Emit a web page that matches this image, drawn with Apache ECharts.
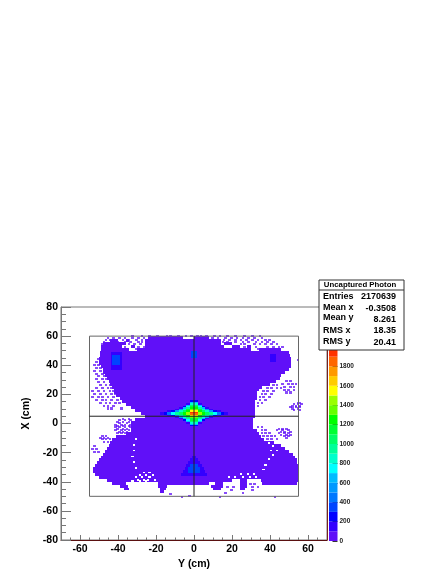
<!DOCTYPE html>
<html>
<head>
<meta charset="utf-8">
<script src="https://cdn.jsdelivr.net/npm/echarts@6/dist/echarts.min.js"></script>
<style>html,body{margin:0;padding:0;background:#fff}#chart{width:441px;height:571px}</style>
</head>
<body>
<div id="chart"></div>
<script>
// tick positions
const xMajorTicks = [-60, -40, -20, 0, 20, 40, 60];
const xMinorTicks = [-65, -55, -50, -45, -35, -30, -25, -15, -10, -5, 5, 10, 15, 25, 30, 35, 45, 50, 55, 65];
const zTicks = [0, 200, 400, 600, 800, 1000, 1200, 1400, 1600, 1800];
// colour of each 100-count band of the z scale
const palette = ['#6010f8', '#3300ff', '#0000ff', '#0044ff', '#0077ff', '#0099ff', '#00bbff', '#00ffff', '#00ffcc', '#00ff99',
  '#00ff66', '#00ff33', '#00ff00', '#66ff00', '#99ff00', '#ffff00', '#ffcc00', '#ff9900', '#ff6600', '#ff3300', '#ff0000',
  '#ff0000', '#ff0000', '#ff0000', '#ff0000'];

// solid body of the histogram: [top X, from Y, to Y], each row 2 cm high
const bodyRows = [
  [60,-24,-6],[60,0,8],
  [58,-44,-40],[58,-36,-34],[58,-26,14],
  [56,-48,-36],[56,-26,14],[56,16,20],
  [54,-49,-38],[54,-33,-31],[54,-26,16],[54,20,24],[54,28,30],
  [52,-49,-34],[52,-30,30],[52,34,46],
  [50,-49.5,50],[48,-49.5,50.5],[46,-50,51],[44,-50,51],[42,-50,51],[40,-49,51],
  [38,-48,50],[36,-48,48],[34,-47,46],[32,-46,45],[30,-45,43],[28,-44,40],[26,-43,36],[24,-42,34],
  [22,-42,33],[20,-41,33],[18,-39,33],[16,-38,32],[14,-36,32],[12,-33,32],[10,-31,32],[8,-28,32],[6,-26,32],
  [4,-31,31],[2,-33,31],[0,-33,31],[-2,-33,31],[-4,-33,33],[-6,-36,34],[-8,-41,35],[-10,-43,37],
  [-12,-44,42],[-14,-45,46],[-16,-46,48],[-18,-47,50],[-20,-48,52],[-22,-49,53],[-24,-50,54],[-26,-51,54],
  [-28,-52,54.5],[-30,-53,54.5],[-32,-53,54.5],[-34,-52,54.5],[-36,-50,54.5],
  [-38,-46,20],[-38,24,28],[-38,35,54.5],
  [-40,-43,-36],[-40,-19,8],[-40,11,15],[-40,24,28],[-40,36,54],
  [-42,-39,-35],[-42,-19,-14],[-42,9,15],[-42,24,28],
  [-44,-37,-34],[-44,-18,-15],[-44,10,14],[-44,24,27],
  [-46,-18,-16]
];
const bodyCount = 40;

// isolated filled bins outside the body: [X, list of Y]
const speckleRows = [
  [61,[-33,-28,-24,-20,-15,-13,-9,-5,-2,1,3,6,10,13,17,21,26,30,34]],
  [59.5,[-46,-43,-40,-37,-33,-30,-27,9,12,16,19,22,25,28,31,35]],
  [58,[-47,-45,-42,-38,-35,-31,-28,15,18,21,24,27,30,33,37,39]],
  [56.5,[-48,-44,-41,-37,-34,-30,-28,14.5,17,21,25,28,32,35,38,41]],
  [55,[-49,-46,-35,-32,-29,18,24,26,31,34,37,40,43]],
  [53.5,[-48,-37,-33,-30,-27,21,26,32,38,41,44,46]],
  [52,[-36,-31,-28,28,33,40]],
  [45,[-51]],[44,[54]],[43,[-52,-50]],[41,[-53,-51]],[39,[-52,-50]],[37,[-53,-50]],[35,[-52,-49]],[33,[-51,-48]],
  [31,[-52,-49,-47]],[30,[48,50]],[29,[-51,-48]],[28,[46,49,51,53]],[27,[-50,-47,-45,41,43]],[26,[47,50,52]],
  [25,[-52,-49,-46,-44,38,40,43,45]],[24,[47,49,52]],[23,[-54,-51,-48,-45,-43,36,38,41]],[22,[48,50]],
  [21,[-53,-50,-47,-44,-42,35,37,40]],[19,[-54,-51,-49,-46,-43,34,36,39]],[17,[-52,-49,-47,-44,-41,34,37]],
  [15,[-50,-47,-45,-42,-40,33,35,54,55]],[14,[52,54,56]],[13,[-48,-46,-43,33,51,53,55]],[12,[50,53,55]],
  [11,[-46,-44,-39,51,54]],[10,[52,55]],
  [4,[-38,-35]],[3,[-40,-37,-34]],[2,[-41,-38,-35]],[1,[-40,-36]],[0,[-42,-39,-37,-34]],[-1,[-41,-38,-35]],
  [-2,[-42,-40,-37,-34,33,35]],[-3,[-41,-38,-36,44,46,48]],[-4,[-42,-39,-37,-35,35,37,43,46,49]],
  [-5,[-40,-38,-36,45,47,50]],[-6,[-41,-39,-37,35,37,39,44,47,49]],[-7,[45,48,50]],
  [-8,[-49,-47,36,38,40,42,47,49]],[-9,[-50,-48,-46,48]],[-10,[-49,-47,-45,38,40,43]],[-12,[-48,-46]],
  [-15,[-53]],[-17,[-54,-52]],[-19,[-53,-51]],
  [-41,[29,31]],[-43,[17,20,30,33]],[-45,[19,30]],[-47,[16,25]],[-47.5,[-13]],[-49,[-3]],[-50,[-7,13,42]]
];
const speckleCount = 30;

// white gaps inside the body: [X, list of Y]
const holeRows = [
  [-6,[36]],[-8,[38]],[-10,[-31]],[-11,[37,40]],[-13,[39,43]],[-14,[-32]],[-15,[41]],[-18,[-32,40,43]],[-21,[41]],
  [-22,[-33]],[-24,[39]],[-26,[-32]],[-28,[37]],[-30,[-31]],[-31,[36]],
  [-33,[-27,-24]],[-34,[24,28,31]],[-35,[-29,-26,-22]],[-36,[-31,-28,-24,18,21,25,29,32]],
  [-38,[-30,-27,-25,-21,22,29,31,33]],[-39,[-33,-29,-26]],[-40,[17,20,22,29,32]]
];

// darker patches: [from Y, to Y, top X, bottom X, count]
const patches = [
  [-45,-37,50,32,90],[-43.5,-38,49,37,150],[-43,-39,47,40,320],
  [38.5,45,50,38,90],[40,43,48,42,150],
  [-3,3,52,42,90],[-1.5,1.5,50,45,320],
  [-1,1,-22,-24,100],[-2,2,-24,-26,100],[-3,3,-26,-28,100],[-4,4,-28,-30,100],[-5,5,-30,-32,100],[-6,6,-32,-34,100],[-7,7,-34,-36,100],
  [-1,1,-26,-28,150],[-2,2,-28,-30,320],[-3,3,-30,-32,350],[-3,3,-32,-34,320],[-2,2,-34,-36,150]
];

// central peak: rows from X=16 downwards, 1 cm high, 20 columns of 2 cm from Y=-20
const peakColumnsFrom = -20;
const peakRows = [
  [0,0,0,0,0,0,0,0,0,200,200,0,0,0,0,0,0,0,0,0],
  [0,0,0,0,0,0,0,0,0,600,600,0,0,0,0,0,0,0,0,0],
  [0,0,0,0,0,0,0,0,100,800,800,100,0,0,0,0,0,0,0,0],
  [0,0,0,0,0,0,0,0,600,1000,1000,600,0,0,0,0,0,0,0,0],
  [0,0,0,0,0,0,0,200,700,1100,1100,700,200,0,0,0,0,0,0,0],
  [0,0,0,0,0,0,100,600,900,1200,1200,900,600,100,0,0,0,0,0,0],
  [0,0,0,0,0,100,500,800,1100,1300,1300,1100,800,500,100,0,0,0,0,0],
  [0,0,0,100,200,500,800,1000,1200,1500,1500,1200,1000,800,500,200,100,0,0,0],
  [90,100,200,400,700,900,1050,1200,1450,1900,1900,1450,1200,1050,900,700,400,200,100,90],
  [0,100,200,400,700,900,1050,1200,1400,1800,1800,1400,1200,1050,900,700,400,200,100,0],
  [0,0,0,100,200,500,800,1000,1200,1500,1500,1200,1000,800,500,200,100,0,0,0],
  [0,0,0,0,0,100,500,800,1050,1300,1300,1050,800,500,100,0,0,0,0,0],
  [0,0,0,0,0,0,100,600,900,1150,1150,900,600,100,0,0,0,0,0,0],
  [0,0,0,0,0,0,0,200,700,1100,1100,700,200,0,0,0,0,0,0,0],
  [0,0,0,0,0,0,0,0,600,1000,1000,600,0,0,0,0,0,0,0,0],
  [0,0,0,0,0,0,0,0,100,800,800,100,0,0,0,0,0,0,0,0],
  [0,0,0,0,0,0,0,0,0,600,600,0,0,0,0,0,0,0,0,0],
  [0,0,0,0,0,0,0,0,0,200,200,0,0,0,0,0,0,0,0,0]
];

// outline drawn over the histogram
const frameLine = [[-55,60],[55,60],[55,-50],[-55,-50],[-55,60]];
const crossH = [[-55,5],[55,5]];
const crossV = [[0,60],[0,-50]];

const statsTitle = 'Uncaptured Photon';
const statsNames = ['Entries', 'Mean x', 'Mean y', 'RMS x', 'RMS y'];
const statsValues = ['2170639', '-0.3508', '8.261', '18.35', '20.41'];

// everything goes to one list of rectangles: [from Y, to Y, top X, bottom X, count], count -1 = white
const cells = [];
bodyRows.forEach(r => cells.push([r[1], r[2], r[0], r[0] - 2, bodyCount]));
holeRows.forEach(r => r[1].forEach(y => cells.push([y, y + 1.2, r[0], r[0] - 1.2, -1])));
speckleRows.forEach(r => r[1].forEach(y => cells.push([y, y + 1.4, r[0], r[0] - 1.4, speckleCount])));
patches.forEach(p => cells.push(p));
peakRows.forEach((row, i) => row.forEach((v, j) => {
  if (v > 0) cells.push([peakColumnsFrom + 2 * j, peakColumnsFrom + 2 * j + 2, 16 - i, 15 - i, v]);
}));

const colorOf = v => v < 0 ? '#fff' : palette[Math.min(Math.floor(v / 100), palette.length - 1)];

const bandData = palette.map((c, i) => [i * 100, (i + 1) * 100]);

const font = 'Liberation Sans';
const chart = echarts.init(document.getElementById('chart'), null, { renderer: 'canvas' });

// snapped to whole pixels, otherwise the rows show white seams between them
const rectItem = (params, api) => {
  const a = api.coord([api.value(0), api.value(2)]).map(Math.round);
  const b = api.coord([api.value(1), api.value(3)]).map(Math.round);
  const v = api.value(4);
  return {
    type: 'rect',
    shape: { x: a[0], y: a[1], width: Math.max(b[0] - a[0], 1), height: Math.max(b[1] - a[1], 1) },
    style: { fill: colorOf(v), opacity: v === speckleCount ? 0.75 : 1 }
  };
};

const frameSeries = (data, color) => ({
  type: 'line', data, showSymbol: false, silent: true, animation: false, z: 5,
  xAxisIndex: 0, yAxisIndex: 0, lineStyle: { color, width: 1 }
});

const boldText = { fontFamily: font, fontWeight: 'bold', fontSize: 10.5, color: '#000' };
const statsNameY = [17, 28, 38, 51, 62];
const statsValueY = [17, 29, 40, 51, 63];

chart.setOption({
  animation: false,
  backgroundColor: '#fff',
  grid: [
    { left: 61, top: 307, width: 266, height: 234, show: true, borderColor: '#777', borderWidth: 1, backgroundColor: 'transparent' },
    { left: 329, top: 307, width: 8.5, height: 234 }
  ],
  xAxis: [
    {
      type: 'value', gridIndex: 0, min: -70, max: 70,
      name: 'Y (cm)', nameLocation: 'middle', nameGap: 19,
      nameTextStyle: boldText,
      splitLine: { show: false },
      axisLine: { onZero: false, lineStyle: { color: '#5a1010', width: 1 } },
      axisTick: { inside: true, length: 5, customValues: xMajorTicks, lineStyle: { color: '#777' } },
      axisLabel: { customValues: xMajorTicks, margin: 4, ...boldText }
    },
    {
      type: 'value', gridIndex: 0, min: -70, max: 70, position: 'bottom',
      splitLine: { show: false }, axisLine: { show: false, onZero: false },
      axisTick: { inside: true, length: 2.5, customValues: xMinorTicks, lineStyle: { color: '#777' } },
      axisLabel: { show: false }
    },
    { type: 'value', gridIndex: 1, min: 0, max: 1, show: false }
  ],
  yAxis: [
    {
      type: 'value', gridIndex: 0, min: -80, max: 80, interval: 20,
      name: 'X (cm)', nameLocation: 'middle', nameGap: 1, nameRotate: 90,
      nameTextStyle: { ...boldText, padding: [0, 0, 0, 20] },
      splitLine: { show: false },
      axisLine: { onZero: false, lineStyle: { color: '#777', width: 1 } },
      axisTick: { inside: true, length: 10, lineStyle: { color: '#777' } },
      minorTick: { show: true, splitNumber: 4, length: 5, lineStyle: { color: '#777' } },
      axisLabel: { margin: 3, ...boldText }
    },
    {
      type: 'value', gridIndex: 0, min: -80, max: 80, position: 'right',
      splitLine: { show: false }, axisTick: { show: false }, axisLabel: { show: false },
      axisLine: { show: true, onZero: false, lineStyle: { color: '#7a2020', width: 1 } }
    },
    {
      type: 'value', gridIndex: 1, min: 0, max: 2412, position: 'right',
      splitLine: { show: false }, axisLine: { show: false, onZero: false },
      axisTick: { inside: true, length: 5, customValues: zTicks, lineStyle: { color: '#333' } },
      axisLabel: { customValues: zTicks, margin: 2, fontFamily: font, fontSize: 6.5, fontWeight: 'bold', color: '#222', formatter: v => String(v) }
    }
  ],
  series: [
    {
      type: 'custom', xAxisIndex: 0, yAxisIndex: 0, data: cells, renderItem: rectItem,
      clip: true, silent: true, animation: false, progressive: 0, z: 2
    },
    frameSeries(frameLine, '#666'),
    frameSeries(crossH, '#222'),
    frameSeries(crossV, '#222'),
    {
      type: 'custom', xAxisIndex: 2, yAxisIndex: 2, data: bandData,
      renderItem: (params, api) => {
        const a = api.coord([0, api.value(1)]);
        const b = api.coord([1, api.value(0)]);
        return { type: 'rect', shape: { x: a[0], y: a[1], width: b[0] - a[0], height: b[1] - a[1] }, style: { fill: palette[params.dataIndex] } };
      },
      silent: true, animation: false, z: 2
    }
  ],
  graphic: [{
    type: 'group', x: 319, y: 280,
    children: [
      { type: 'rect', z: 100, shape: { x: 0, y: 0, width: 85, height: 70 }, style: { fill: '#fff', stroke: '#333', lineWidth: 1 } },
      { type: 'line', z: 101, shape: { x1: 0, y1: 10, x2: 85, y2: 10 }, style: { stroke: '#333', lineWidth: 1 } },
      { type: 'text', z: 101, x: 41, y: 5, style: { text: statsTitle, align: 'center', verticalAlign: 'middle', font: 'bold 7.8px ' + font, fill: '#000' } },
      ...statsNames.map((n, i) => ({ type: 'text', z: 101, x: 4, y: statsNameY[i], style: { text: n, verticalAlign: 'middle', font: 'bold 9px ' + font, fill: '#000' } })),
      ...statsValues.map((v, i) => ({ type: 'text', z: 101, x: 77, y: statsValueY[i], style: { text: v, align: 'right', verticalAlign: 'middle', font: 'bold 9px ' + font, fill: '#000' } }))
    ]
  }]
});
</script>
</body>
</html>
